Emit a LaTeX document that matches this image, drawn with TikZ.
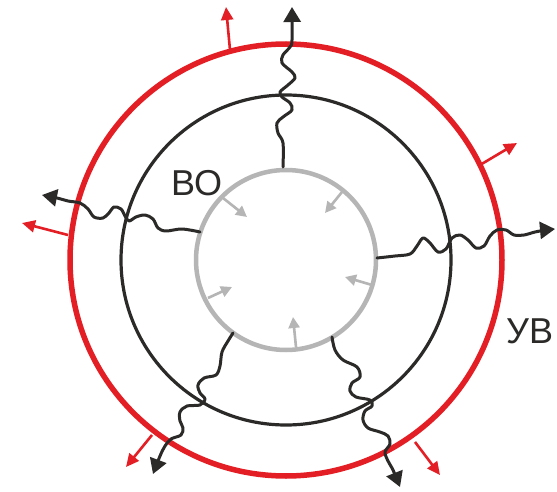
\documentclass[tikz,border=0pt]{standalone}
\usepackage{fontspec}
\setmainfont{Liberation Sans}
\usetikzlibrary{arrows.meta}
\definecolor{rd}{HTML}{E31E24}
\definecolor{bk}{HTML}{2B2A29}
\definecolor{gr}{HTML}{B5B5B5}
\begin{document}
\begin{tikzpicture}[x=1pt,y=-1pt,
  redring/.style={draw=rd,line width=5.5pt},
  blackring/.style={draw=bk,line width=3.2pt},
  grayring/.style={draw=gr,line width=4.5pt},
  wavy/.style={draw=bk,line width=3pt,line cap=round,line join=round,
    -{Triangle[length=15pt,width=17pt]}},
  redarrow/.style={draw=rd,line width=2.6pt,-{Triangle[length=13pt,width=12pt]}},
  grayarrow/.style={draw=gr,line width=2.6pt,-{Triangle[length=11pt,width=11pt]}},
  lbl/.style={font=\fontsize{36}{36}\selectfont,text=bk,inner sep=0pt}]
\useasboundingbox[fill=white] (0,0) rectangle (557,492);
\coordinate (c) at (286,260);
% rings
\draw[redring] (c) circle (216);
\draw[blackring] (c) circle (165);
\draw[grayring] (c) circle (90);
% red arrows
\coordinate (r1a) at (230,50);  \coordinate (r1b) at (226,7);
\coordinate (r2a) at (480,165); \coordinate (r2b) at (517,143);
\coordinate (r3a) at (68,235);  \coordinate (r3b) at (22,223);
\coordinate (r4a) at (152,435); \coordinate (r4b) at (126,467);
\coordinate (r5a) at (415,442); \coordinate (r5b) at (440,475);
\foreach \i in {1,...,5} \draw[redarrow] (r\i a) -- (r\i b);
% gray arrows
\coordinate (g1a) at (223,198); \coordinate (g1b) at (247,217);
\coordinate (g2a) at (342,192); \coordinate (g2b) at (325,213);
\coordinate (g3a) at (372,285); \coordinate (g3b) at (345,277);
\coordinate (g4a) at (296,347); \coordinate (g4b) at (293,317);
\coordinate (g5a) at (208,298); \coordinate (g5b) at (232,287);
\foreach \i in {1,...,5} \draw[grayarrow] (g\i a) -- (g\i b);
% wavy arrows
\draw[wavy] plot[smooth,tension=0.55] coordinates {(283,167) (283,143) (278,133) (277,123) (283,117) (292,110) (290,103) (282,97) (280,92) (288,85) (295,78) (292,72) (282,63) (283,55) (290,47) (292,40) (292,7)};
\draw[wavy] plot[smooth,tension=0.55] coordinates {(200,232) (182,229) (166,231) (158,228) (153,219) (145,215) (136,217) (129,221) (125,216) (121,209) (114,207) (109,213) (103,218) (94,217) (88,209) (80,203) (68,201) (57,198) (42,195)};
\draw[wavy] plot[smooth,tension=0.55] coordinates {(377,258) (395,256) (410,254) (417,246) (423,238) (430,243) (438,252) (446,249) (452,238) (460,235) (468,240) (476,248) (484,246) (490,236) (497,230) (506,230) (514,235) (524,235) (535,232) (546,230) (555,229)};
\draw[wavy] plot[smooth,tension=0.55] coordinates {(233,333) (228,341) (222,352) (220,366) (216,375) (204,378) (198,385) (200,393) (205,399) (200,405) (187,406) (180,412) (180,421) (183,428) (181,435) (171,439) (165,446) (160,456) (153,474)};
\draw[wavy] plot[smooth,tension=0.55] coordinates {(332,337) (335,350) (343,360) (357,367) (360,377) (352,383) (350,391) (356,397) (370,400) (372,406) (365,411) (363,420) (368,428) (380,432) (388,436) (390,444) (385,452) (388,461) (393,470) (400,487)};
% labels
\node[lbl,anchor=base west] (vo) at (171,196) {ВО};
\node[lbl,anchor=base west] (uv) at (506,343) {УВ};
\end{tikzpicture}
\end{document}
